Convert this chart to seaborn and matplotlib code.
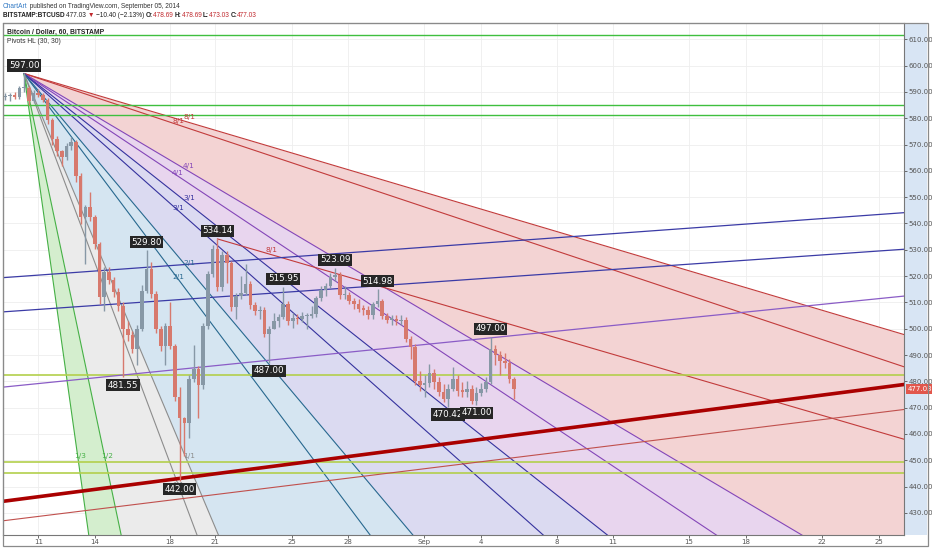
import numpy as np
import pandas as pd
import seaborn as sns
import matplotlib.pyplot as plt
import matplotlib.transforms as mtransforms
from matplotlib.patches import Rectangle

# ---- price bars (6-hour bars) ----
bar_start_day = -1.75      # day offset of first bar (0 = Aug 11)
bar_step_day = 0.25
first_open = 588.0
highs = [589.7, 589.7, 590.0, 592.3, 597.0, 592.3, 590.8, 591.2, 589.7, 587.8,
         580.2, 573.4, 568.1, 570.7, 572.9, 571.9, 559.0, 547.2, 551.8, 543.4,
         532.8, 523.4, 523.4, 519.6, 515.5, 510.2, 503.0, 499.2, 501.5, 516.6,
         529.8, 525.3, 514.3, 501.1, 502.2, 510.2, 494.2, 477.9, 466.6, 482.5,
         493.8, 485.9, 502.2, 521.9, 531.7, 534.14, 529.4, 529.4, 525.7, 513.6,
         520.0, 524.5, 518.1, 510.2, 508.7, 508.3, 501.1, 506.0, 505.6, 515.95,
         510.5, 506.0, 505.6, 506.4, 506.0, 508.7, 512.5, 516.2, 517.3, 521.1,
         523.09, 521.5, 516.2, 514.0, 511.7, 511.3, 509.0, 508.7, 510.2, 514.98,
         511.3, 506.0, 505.3, 505.3, 505.3, 504.5, 497.3, 494.2, 484.0, 482.5,
         486.6, 484.7, 481.7, 479.1, 479.1, 485.5, 482.5, 479.8, 480.2, 478.7,
         477.9, 479.4, 481.7, 497.0, 493.8, 491.6, 490.8, 488.5, 481.7]
lows = [587.0, 586.6, 587.4, 587.4, 590.0, 585.1, 585.9, 588.1, 586.2, 577.9,
        570.0, 565.8, 562.0, 564.3, 568.1, 555.9, 539.7, 524.5, 540.8, 530.2,
        509.4, 506.8, 517.0, 512.1, 506.8, 481.55, 495.4, 490.8, 486.3, 499.2,
        513.6, 511.7, 498.4, 491.6, 486.3, 492.3, 472.7, 442.0, 451.8, 458.3,
        479.8, 465.9, 477.2, 499.9, 519.6, 514.3, 514.3, 517.3, 506.8, 503.7,
        511.3, 512.8, 507.5, 505.3, 503.7, 496.9, 487.0, 499.9, 500.7, 503.7,
        501.5, 500.3, 501.8, 502.6, 499.9, 504.1, 504.5, 510.5, 512.5, 515.5,
        518.1, 511.3, 511.3, 509.4, 507.5, 506.4, 505.3, 503.7, 503.7, 508.3,
        503.7, 502.2, 501.5, 501.5, 501.5, 495.0, 488.5, 478.7, 476.4, 474.2,
        477.9, 477.2, 474.5, 472.3, 470.42, 476.4, 474.5, 474.2, 474.2, 471.2,
        471.0, 474.5, 476.1, 479.1, 486.3, 482.5, 485.1, 479.4, 473.4]
closes = [588.5, 588.9, 588.1, 591.5, 591.5, 586.6, 589.7, 588.9, 587.0, 579.4,
          572.2, 567.4, 565.4, 569.6, 571.1, 558.2, 542.3, 546.1, 542.3, 532.1,
          512.1, 521.5, 518.5, 514.0, 508.7, 499.9, 497.6, 492.3, 499.9, 514.3,
          522.6, 513.2, 499.9, 493.5, 501.1, 493.5, 474.2, 465.9, 464.0, 481.0,
          484.7, 478.7, 501.1, 520.8, 530.2, 515.9, 527.9, 524.9, 508.3, 512.5,
          513.6, 517.0, 509.0, 506.8, 507.2, 498.0, 499.9, 503.0, 504.5, 509.4,
          503.0, 504.1, 503.7, 504.9, 504.9, 505.6, 511.7, 514.7, 516.2, 519.6,
          520.4, 512.8, 512.8, 510.5, 509.4, 507.5, 507.2, 505.3, 509.4, 510.5,
          504.9, 503.4, 503.7, 503.0, 503.4, 496.1, 493.1, 480.2, 478.7, 479.4,
          483.2, 479.8, 476.1, 473.4, 477.2, 481.0, 476.4, 476.1, 477.2, 472.7,
          475.7, 477.2, 479.8, 492.3, 490.1, 487.8, 487.0, 481.0, 477.03]

# ---- pivots HL (30, 30) ----
pivot_high_bars = [4, 30, 45, 59, 70, 79, 103]
pivot_high_prices = [597.00, 529.80, 534.14, 515.95, 523.09, 514.98, 497.00]
pivot_low_bars = [25, 37, 56, 94, 100]
pivot_low_prices = [481.55, 442.00, 487.00, 470.42, 471.00]

# ---- horizontal levels ----
green_levels = [611.6, 584.9, 581.3]
olive_levels = [482.4, 449.5, 445.0]

# ---- gann fans from the 597 high ----
fan_origin_day = -0.76
fan_origin_price = 597.0
fan_a_unit = 17.0          # $/day of the 1/1 line
fan_b_unit = 19.1
fan_a_box_day = 7.9
fan_b_box_day = 7.52
fan_a_names = ["8/1", "4/1", "3/1", "2/1", "1/1", "1/2", "1/3"]
fan_a_factors = [1 / 8, 1 / 4, 1 / 3, 1 / 2, 1, 2, 3]
fan_b_names = ["8/1", "4/1", "3/1", "2/1", "1/1"]
fan_b_factors = [1 / 8, 1 / 4, 1 / 3, 1 / 2, 1]
fan_colors = {"8/1": "#c23b3b", "4/1": "#8446b8", "3/1": "#35329e",
              "2/1": "#27688f", "1/1": "#8c8c8c", "1/2": "#45b045", "1/3": "#45b045"}
band_colors = ["#f3d3d3", "#e8d5ee", "#dbdaf1", "#d5e5f1", "#ebebeb", "#d4eece"]

# 8/1 line from the 534.14 high
sub_fan_bar = 45
sub_fan_slope = 2.09
sub_fan_label_day = 12.4

# rising lines (price at left / right edge)
rise_days = [-1.87, 45.93]
rise_lines = [
    ([434.4, 478.8], "#aa0000", 2.6),
    ([427.0, 469.3], "#c0504d", 0.8),
    ([519.4, 544.1], "#3b3ba6", 0.9),
    ([506.4, 530.2], "#3b3ba6", 0.9),
    ([477.8, 512.4], "#8a5cc6", 0.9),
]

tick_days = [0, 3, 7, 9.4, 13.45, 16.45, 20.45, 23.5, 27.5, 30.5, 34.5, 37.55, 41.6, 44.6]
tick_labels = ["11", "14", "18", "21", "25", "28", "Sep", "4", "8", "11", "15", "18", "22", "25"]
price_ticks = list(range(430, 611, 10))
last_price = 477.03

header_line1 = [("ChartArt", "#2f78c4", "normal"),
                (" published on TradingView.com, September 05, 2014", "#333333", "normal")]
header_line2 = [("BITSTAMP:BTCUSD ", "#222222", "bold"), ("477.03 ", "#222222", "normal"),
                ("\u25bc ", "#c0282d", "normal"), ("\u221210.40 (\u22122.13%) ", "#222222", "normal"),
                ("O:", "#222222", "bold"), ("478.69 ", "#c0282d", "normal"),
                ("H:", "#222222", "bold"), ("478.69 ", "#c0282d", "normal"),
                ("L:", "#222222", "bold"), ("473.03 ", "#c0282d", "normal"),
                ("C:", "#222222", "bold"), ("477.03", "#c0282d", "normal")]

XMIN, XMAX = -1.87, 45.93
YMIN, YMAX = 421.6, 616.3

sns.set_theme(style="white")
plt.rcParams["font.family"] = ["DejaVu Sans"]
SANS = ["Liberation Sans", "DejaVu Sans"]

W, H = 932, 550
fig = plt.figure(figsize=(W / 100, H / 100), dpi=100)
fig.patch.set_facecolor("white")

# price scale panel
pax = fig.add_axes([904 / W, 15 / H, 23 / W, 512.3 / H], facecolor="#d8e5f4")
pax.set_xticks([])
pax.set_yticks([])
for s in pax.spines.values():
    s.set_visible(False)

ax = fig.add_axes([3 / W, 15 / H, 901 / W, 512.3 / H], facecolor="white")
ax.set_xlim(XMIN, XMAX)
ax.set_ylim(YMIN, YMAX)

# grid
for d in tick_days:
    ax.axvline(d, color="#eeeeee", lw=0.6, zorder=0)
for p in price_ticks:
    ax.axhline(p, color="#eeeeee", lw=0.6, zorder=0)

# fan A bands
u = np.linspace(fan_origin_day, XMAX, 600)
dt = u - fan_origin_day
fan_a_lines = [fan_origin_price - fan_a_unit * f * dt for f in fan_a_factors]
for k, col in enumerate(band_colors):
    ax.fill_between(u, fan_a_lines[k], fan_a_lines[k + 1], color=col, lw=0, zorder=1)


def draw_fan(names, factors, unit, box_day, dx):
    box_price = fan_origin_price - unit * (box_day - fan_origin_day)
    for name, f in zip(names, factors):
        col = fan_colors[name]
        ax.plot(u, fan_origin_price - unit * f * dt, color=col, lw=0.8, zorder=2)
        if f <= 1:
            lx = box_day
            ly = fan_origin_price - unit * f * (box_day - fan_origin_day)
        else:
            ly = box_price
            lx = fan_origin_day + (fan_origin_price - box_price) / (unit * f)
        ax.text(lx + dx, ly + 0.6, name, color=col, fontsize=5.3, ha="center", va="bottom",
                zorder=3)


draw_fan(fan_a_names, fan_a_factors, fan_a_unit, fan_a_box_day, 0.1)
draw_fan(fan_b_names, fan_b_factors, fan_b_unit, fan_b_box_day, -0.1)

sub_day = bar_start_day + bar_step_day * sub_fan_bar
sub_price = pivot_high_prices[pivot_high_bars.index(sub_fan_bar)]
su = np.linspace(sub_day, XMAX, 100)
ax.plot(su, sub_price - sub_fan_slope * (su - sub_day), color="#c23b3b", lw=0.8, zorder=2)
ax.text(sub_fan_label_day, sub_price - sub_fan_slope * (sub_fan_label_day - sub_day) + 0.6,
        "8/1", color="#c23b3b", fontsize=5.3, ha="center", va="bottom", zorder=3)

# horizontal levels
for p in green_levels:
    ax.axhline(p, color="#3fbf3f", lw=1.0, zorder=2)
for p in olive_levels:
    ax.axhline(p, color="#b3cf4c", lw=1.2, zorder=2)

# rising lines
for prices, col, lw in rise_lines:
    sns.lineplot(x=rise_days, y=prices, ax=ax, color=col, lw=lw, zorder=2)

# candles
days = bar_start_day + bar_step_day * np.arange(len(closes))
opens = [first_open] + closes[:-1]
df = pd.DataFrame({"day": days, "open": opens, "high": highs, "low": lows, "close": closes})
up = df["close"] >= df["open"]
colors = np.where(up, "#8798a6", "#d7796d")
ax.vlines(df["day"], df["low"], df["high"], colors=colors, lw=1.0, zorder=4)
body = (df["close"] - df["open"]).abs().clip(lower=0.5)
ax.bar(df["day"], body, bottom=df[["open", "close"]].min(axis=1), width=0.19,
       color=colors, lw=0, zorder=5)

# pivot labels
box = dict(boxstyle="square,pad=0.18", fc="#262626", ec="none")
for b, p in zip(pivot_high_bars, pivot_high_prices):
    ax.annotate(f"{p:.2f}", xy=(days[b], p), xytext=(0, 2.5), textcoords="offset points",
                ha="center", va="bottom", fontsize=6.3, color="white", bbox=box, zorder=6)
for b, p in zip(pivot_low_bars, pivot_low_prices):
    ax.annotate(f"{p:.2f}", xy=(days[b], p), xytext=(0, -2.5), textcoords="offset points",
                ha="center", va="top", fontsize=6.3, color="white", bbox=box, zorder=6)

# axes styling
ax.set_xticks(tick_days)
ax.set_xticklabels(tick_labels)
ax.yaxis.tick_right()
ax.set_yticks(price_ticks)
ax.set_yticklabels([f"{p:.2f}" for p in price_ticks])
ax.tick_params(axis="both", labelsize=5, colors="#555555", length=2, width=0.6, pad=1.5)
ax.tick_params(axis="x", bottom=True, pad=1)
ax.tick_params(axis="y", right=True, left=False)
for name, s in ax.spines.items():
    s.set_color("#777777")
    s.set_linewidth(0.8)

trans = mtransforms.blended_transform_factory(ax.transAxes, ax.transData)
ax.text(1.004, last_price, f"{last_price:.2f}", transform=trans, ha="left", va="center",
        fontsize=5, color="white", zorder=7,
        bbox=dict(boxstyle="square,pad=0.25", fc="#e2574c", ec="none"))

# chart titles
ax.text(4 / 901, 1 - 9.5 / 512.3, "Bitcoin / Dollar, 60, BITSTAMP", transform=ax.transAxes,
        fontsize=4.9, color="#222222", weight="bold", va="center", family=SANS, zorder=7)
ax.text(4 / 901, 1 - 18.5 / 512.3, "Pivots HL (30, 30)", transform=ax.transAxes,
        fontsize=4.9, color="#333333", va="center", family=SANS, zorder=7)

# header: pieces laid out one after another
renderer = fig.canvas.get_renderer()


def header_row(pieces, y):
    x = 3.0
    for s, col, weight in pieces:
        t = fig.text(x / W, 1 - y / H, s, va="center", ha="left", fontsize=4.7,
                     color=col, weight=weight, family=SANS)
        x += t.get_window_extent(renderer).width


header_row(header_line1, 6)
header_row(header_line2, 15.5)

fig.add_artist(Rectangle((3 / W, 1 - 546 / H), 925 / W, 523.3 / H, transform=fig.transFigure,
                         fill=False, ec="#8a8a8a", lw=0.9))

fig.savefig("out.png", dpi=100)
